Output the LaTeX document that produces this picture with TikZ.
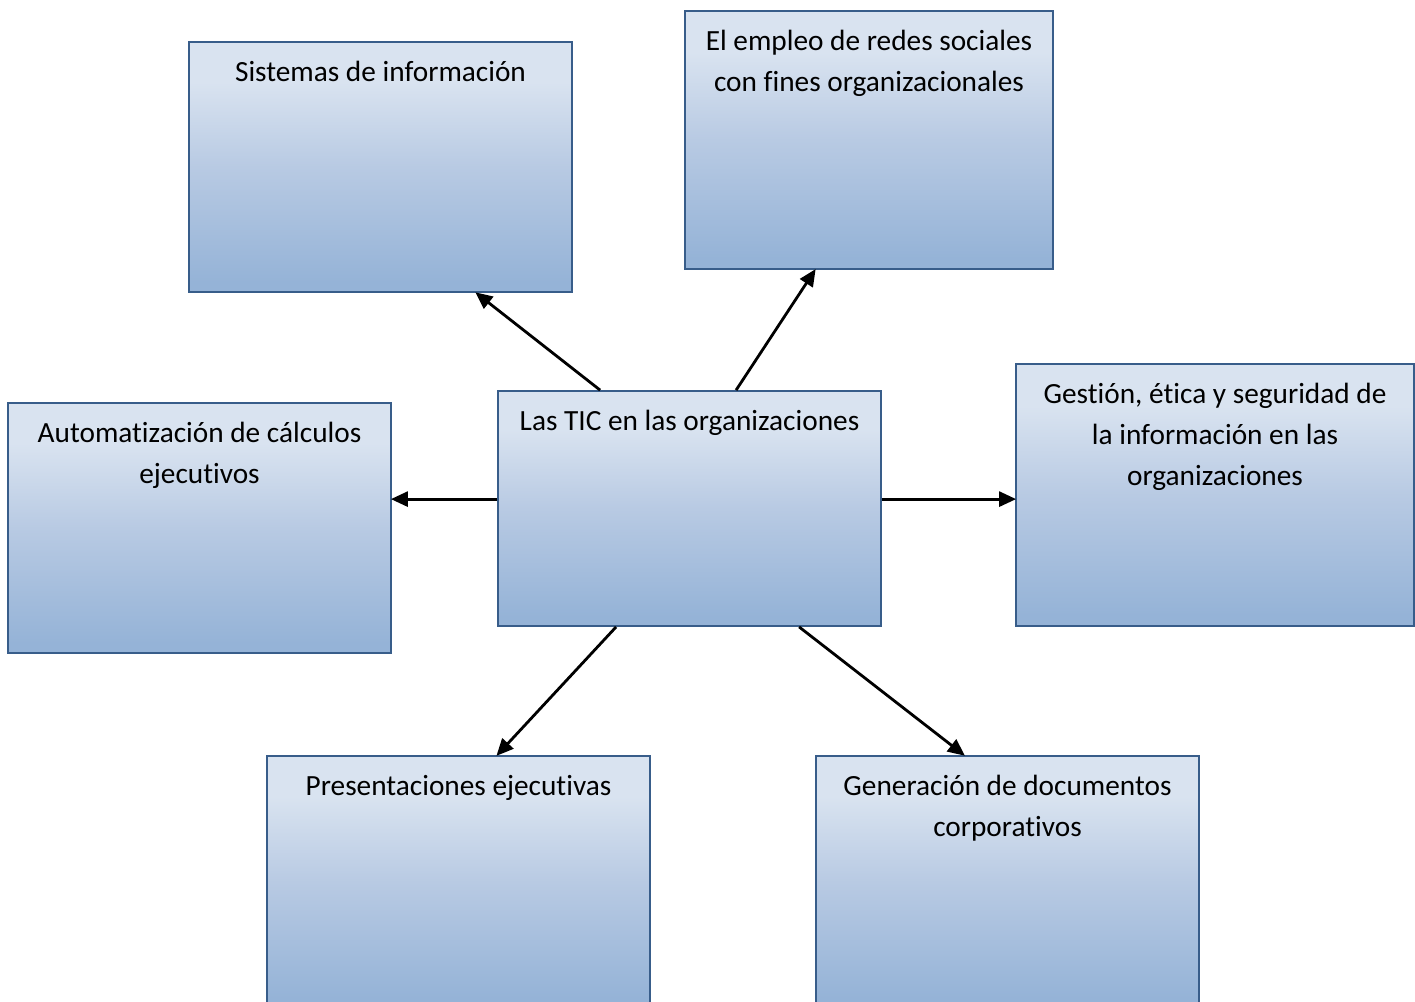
\documentclass[tikz,border=0pt]{standalone}
\usepackage{fontspec}
\setmainfont{Carlito}[Ligatures=NoCommon]
\usetikzlibrary{arrows.meta}
\definecolor{boxborder}{RGB}{56,93,138}
\definecolor{gtop}{RGB}{217,227,240}
\definecolor{gmid}{RGB}{184,202,227}
\definecolor{gbot}{RGB}{149,179,215}
\pgfdeclareverticalshading{boxshade}{100bp}{color(0bp)=(gbot); color(27bp)=(gbot); color(50bp)=(gmid); color(67bp)=(gtop); color(100bp)=(gtop)}
\tikzset{
  box/.style={draw=boxborder, line width=1.8pt, shading=boxshade, rectangle, inner sep=0pt},
  boxtext/.style={anchor=north, inner sep=0pt, align=center, font={\fontsize{29.3}{41}\selectfont}, text=black},
  arr/.style={line width=2.8pt, -{Triangle[length=17pt,width=15pt]}, shorten >=-1pt}
}
\newcommand{\firstline}{\rule{0pt}{29pt}}
\begin{document}
\begin{tikzpicture}[x=1pt,y=-1pt]
\useasboundingbox (0,0) rectangle (1415,1001);
\clip (0,0) rectangle (1415,1001);
\fill[white] (0,0) rectangle (1415,1001);

\node[box, minimum width=383pt, minimum height=250pt] (s) at (380.5,167) {};
\node[box, minimum width=368pt, minimum height=258pt] (r) at (869,140) {};
\node[box, minimum width=383pt, minimum height=250pt] (a) at (199.5,528) {};
\node[box, minimum width=383pt, minimum height=235pt] (c) at (689.5,508.5) {};
\node[box, minimum width=398pt, minimum height=262pt] (g) at (1215,495) {};
\node[box, minimum width=383pt, minimum height=252pt] (p) at (458.5,882) {};
\node[box, minimum width=383pt, minimum height=252pt] (d) at (1007.5,882) {};

\node[boxtext] (st) at ([yshift=-11pt]s.north) {\firstline Sistemas de información};
\node[boxtext] (rt) at ([yshift=-11pt]r.north) {\firstline El empleo de redes sociales\\con fines organizacionales};
\node[boxtext] (at) at ([yshift=-11pt]a.north) {\firstline Automatización de cálculos\\ejecutivos};
\node[boxtext] (ct) at ([yshift=-11pt]c.north) {\firstline Las TIC en las organizaciones};
\node[boxtext] (gt) at ([yshift=-11pt]g.north) {\firstline Gestión, ética y seguridad de\\la información en las\\organizaciones};
\node[boxtext] (pt) at ([yshift=-11pt]p.north) {\firstline Presentaciones ejecutivas};
\node[boxtext] (dt) at ([yshift=-11pt]d.north) {\firstline Generación de documentos\\corporativos};

\draw[arr] ([xshift=103pt]c.north west) -- ([xshift=288pt]s.south west);
\draw[arr] ([xshift=239pt]c.north west) -- ([xshift=131pt]r.south west);
\draw[arr] ([yshift=-109pt]c.north west) -- ([yshift=-97pt]a.north east);
\draw[arr] ([yshift=-109pt]c.north east) -- ([yshift=-136pt]g.north west);
\draw[arr] ([xshift=119pt]c.south west) -- ([xshift=231pt]p.north west);
\draw[arr] ([xshift=302pt]c.south west) -- ([xshift=149pt]d.north west);
\end{tikzpicture}
\end{document}
